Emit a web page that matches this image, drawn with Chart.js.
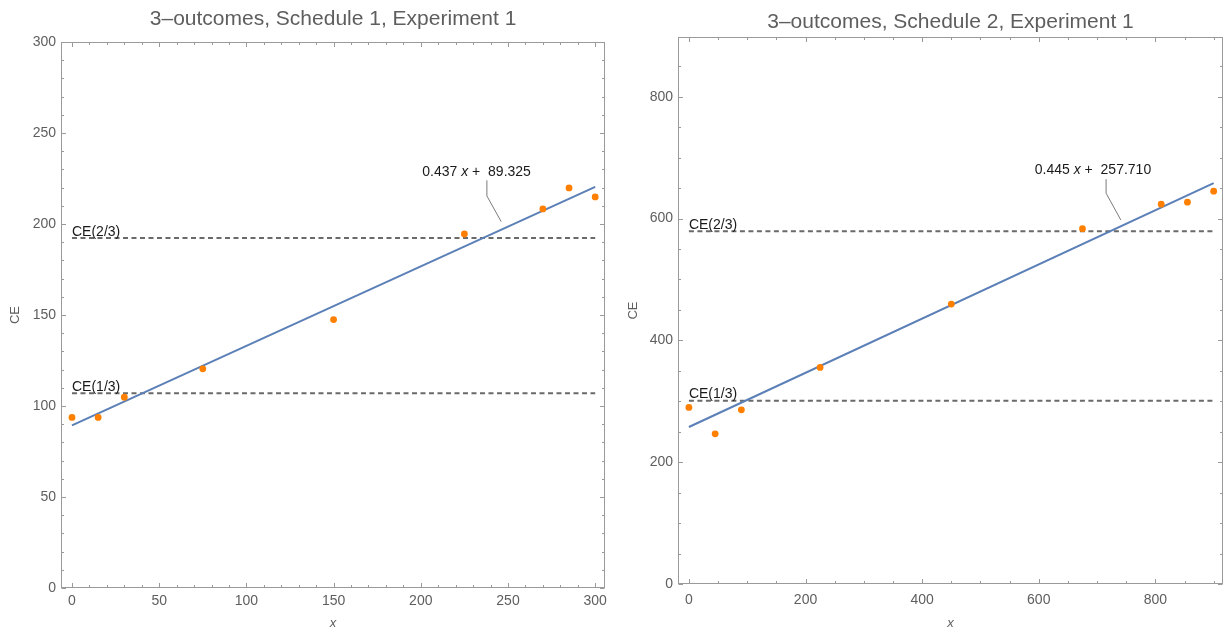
<!DOCTYPE html>
<html lang="en">
<head>
  <meta charset="UTF-8">
  <title>3-outcomes, Experiment 1</title>
  <script src="https://cdn.jsdelivr.net/npm/chart.js"></script>
  <style>
    body { margin: 0; background: #fff; }
    .box { position: absolute; top: 0; width: 612px; height: 632px; }
  </style>
</head>
<body>
  <div class="box" style="left:0"><canvas id="c1"></canvas></div>
  <div class="box" style="left:612px"><canvas id="c2"></canvas></div>

  <script>
    // Schedule 1
    const x1 = [0, 15, 30, 75, 150, 225, 270, 285, 300];
    const ce1 = [93.7, 93.7, 104.8, 120.4, 147.5, 194.5, 208.3, 219.8, 214.9];
    const fit1 = [0.437, 89.325];
    const levels1 = [107.0, 192.3];
    const xTicks1 = [0, 50, 100, 150, 200, 250, 300];
    const yTicks1 = [0, 50, 100, 150, 200, 250, 300];

    // Schedule 2
    const x2 = [0, 45, 90, 225, 450, 675, 810, 855, 900];
    const ce2 = [289.9, 246.5, 286.0, 355.6, 459.6, 583.4, 623.5, 626.8, 644.9];
    const fit2 = [0.445, 257.710];
    const levels2 = [300.7, 579.1];
    const xTicks2 = [0, 200, 400, 600, 800];
    const yTicks2 = [0, 200, 400, 600, 800];

    const levelNames = ['CE(1/3)', 'CE(2/3)'];

    const FONT = '"Liberation Sans", Arial, sans-serif';
    const GRAY = '#5e5e5e';
    const FRAME = '#9a9a9a';

    // frame on all four sides with inward ticks (Mathematica style)
    const framePlugin = {
      id: 'frame',
      afterDraw(chart, args, o) {
        const { ctx, chartArea: a, scales: { x, y } } = chart;
        const L = Math.round(a.left) + 0.5, R = Math.round(a.right) - 0.5;
        const T = Math.round(a.top) + 0.5, B = Math.round(a.bottom) - 0.5;
        ctx.save();
        ctx.strokeStyle = FRAME;
        ctx.lineWidth = 1;
        ctx.strokeRect(L, T, R - L, B - T);
        ctx.beginPath();
        for (let i = Math.ceil(x.min / o.xMinor); i * o.xMinor <= x.max; i++) {
          const v = i * o.xMinor;
          const len = v % o.xMajor === 0 ? 4.5 : 2.5;
          const px = Math.round(x.getPixelForValue(v)) + 0.5;
          ctx.moveTo(px, B); ctx.lineTo(px, B - len);
          ctx.moveTo(px, T); ctx.lineTo(px, T + len);
        }
        for (let i = Math.ceil(y.min / o.yMinor); i * o.yMinor <= y.max; i++) {
          const v = i * o.yMinor;
          const len = v % o.yMajor === 0 ? 4.5 : 2.5;
          const py = Math.round(y.getPixelForValue(v)) + 0.5;
          ctx.moveTo(L, py); ctx.lineTo(L + len, py);
          ctx.moveTo(R, py); ctx.lineTo(R - len, py);
        }
        ctx.stroke();
        ctx.restore();
      }
    };

    // CE level labels, equation label and its leader line
    const annotPlugin = {
      id: 'annot',
      afterDatasetsDraw(chart, args, o) {
        const { ctx, scales: { x, y } } = chart;
        ctx.save();
        ctx.fillStyle = '#1a1a1a';
        ctx.font = '14px ' + FONT;
        ctx.textAlign = 'left';
        ctx.textBaseline = 'alphabetic';
        o.levels.forEach((v, i) => {
          ctx.fillText(levelNames[i], x.getPixelForValue(0), y.getPixelForValue(v) - 2.5);
        });

        ctx.strokeStyle = '#7a7a7a';
        ctx.lineWidth = 1;
        ctx.beginPath();
        o.leader.forEach(([a, b], i) => {
          const px = x.getPixelForValue(a), py = y.getPixelForValue(b);
          if (i) ctx.lineTo(px, py); else ctx.moveTo(px, py);
        });
        ctx.stroke();

        const parts = [
          [o.fit[0].toFixed(3) + ' ', '14px ' + FONT],
          ['x', 'italic 14px ' + FONT],
          [' +  ' + o.fit[1].toFixed(3), '14px ' + FONT]
        ];
        let w = 0;
        parts.forEach(p => { ctx.font = p[1]; w += ctx.measureText(p[0]).width; });
        let px = x.getPixelForValue(o.eqAt[0]) - w / 2;
        const py = y.getPixelForValue(o.eqAt[1]);
        ctx.textBaseline = 'middle';
        parts.forEach(p => {
          ctx.font = p[1];
          ctx.fillText(p[0], px, py);
          px += ctx.measureText(p[0]).width;
        });
        ctx.restore();
      }
    };

    function makeChart(id, s) {
      const xEnd = s.xs[s.xs.length - 1];
      const pts = s.xs.map((v, i) => ({ x: v, y: s.ys[i] }));
      const datasets = [
        {
          data: pts, showLine: false, order: 0,
          pointRadius: 3.4, pointBackgroundColor: '#ff8000', pointBorderWidth: 0
        },
        {
          data: [{ x: 0, y: s.fit[1] }, { x: xEnd, y: s.fit[0] * xEnd + s.fit[1] }],
          showLine: true, order: 1, pointRadius: 0,
          borderColor: '#5b7fb7', borderWidth: 2
        }
      ];
      s.levels.forEach(v => datasets.push({
        data: [{ x: 0, y: v }, { x: xEnd, y: v }],
        showLine: true, order: 2, pointRadius: 0,
        borderColor: '#6a6a6a', borderWidth: 2, borderDash: [5, 3.5]
      }));

      new Chart(document.getElementById(id), {
        type: 'scatter',
        data: { datasets },
        plugins: [framePlugin, annotPlugin],
        options: {
          responsive: true,
          maintainAspectRatio: false,
          animation: false,
          layout: { autoPadding: false, padding: { left: 0, right: s.padRight, top: 0, bottom: 0 } },
          plugins: {
            legend: { display: false },
            tooltip: { enabled: false },
            title: {
              display: true, text: s.title, fullSize: false, color: GRAY,
              font: { family: FONT, size: 21, weight: 'normal' },
              padding: s.titlePad
            },
            frame: { xMajor: s.xMajor, xMinor: s.xMinor, yMajor: s.yMajor, yMinor: s.yMinor },
            annot: { levels: s.levels, fit: s.fit, eqAt: s.eqAt, leader: s.leader }
          },
          scales: {
            x: {
              type: 'linear', min: s.xMin, max: s.xMax,
              afterBuildTicks: sc => { sc.ticks = s.xTicks.map(v => ({ value: v })); },
              afterFit: sc => { sc.height = s.xH; },
              grid: { display: false, drawTicks: false },
              border: { display: false },
              ticks: { color: GRAY, font: { family: FONT, size: 14 }, padding: s.xTickPad, maxRotation: 0, autoSkip: false },
              title: { display: true, text: 'x', color: GRAY, font: { family: FONT, size: 13, style: 'italic' }, padding: { top: 0, bottom: 1 } }
            },
            y: {
              type: 'linear', min: 0, max: s.yMax,
              afterBuildTicks: sc => { sc.ticks = s.yTicks.map(v => ({ value: v })); },
              afterFit: sc => { sc.width = s.yW; },
              grid: { display: false, drawTicks: false },
              border: { display: false },
              ticks: { color: GRAY, font: { family: FONT, size: 14 }, padding: 5, autoSkip: false },
              title: { display: true, text: 'CE', color: GRAY, font: { family: FONT, size: 13 }, padding: { top: s.yTitlePad, bottom: 0 } }
            }
          }
        }
      });
    }

    makeChart('c1', {
      title: '3\u2013outcomes, Schedule 1, Experiment 1',
      xs: x1, ys: ce1, fit: fit1, levels: levels1,
      xTicks: xTicks1, yTicks: yTicks1,
      xMin: -6.3, xMax: 305.7, yMax: 300,
      xMajor: 50, xMinor: 10, yMajor: 50, yMinor: 10,
      padRight: 6, xH: 44, yW: 61, xTickPad: 5, yTitlePad: 8,
      titlePad: { top: 7, bottom: 9.8 },
      eqAt: [232, 228.4],
      leader: [[237.9, 224], [237.9, 215.4], [246.1, 201.3]]
    });

    makeChart('c2', {
      title: '3\u2013outcomes, Schedule 2, Experiment 1',
      xs: x2, ys: ce2, fit: fit2, levels: levels2,
      xTicks: xTicks2, yTicks: yTicks2,
      xMin: -18.7, xMax: 916, yMax: 898,
      xMajor: 200, xMinor: 50, yMajor: 200, yMinor: 50,
      padRight: 1, xH: 48, yW: 66, xTickPad: 8, yTitlePad: 14,
      titlePad: { top: 10, bottom: 1.8 },
      eqAt: [693, 678.7],
      leader: [[715.5, 664.6], [715.5, 641.6], [740.7, 597.7]]
    });
  </script>
</body>
</html>
